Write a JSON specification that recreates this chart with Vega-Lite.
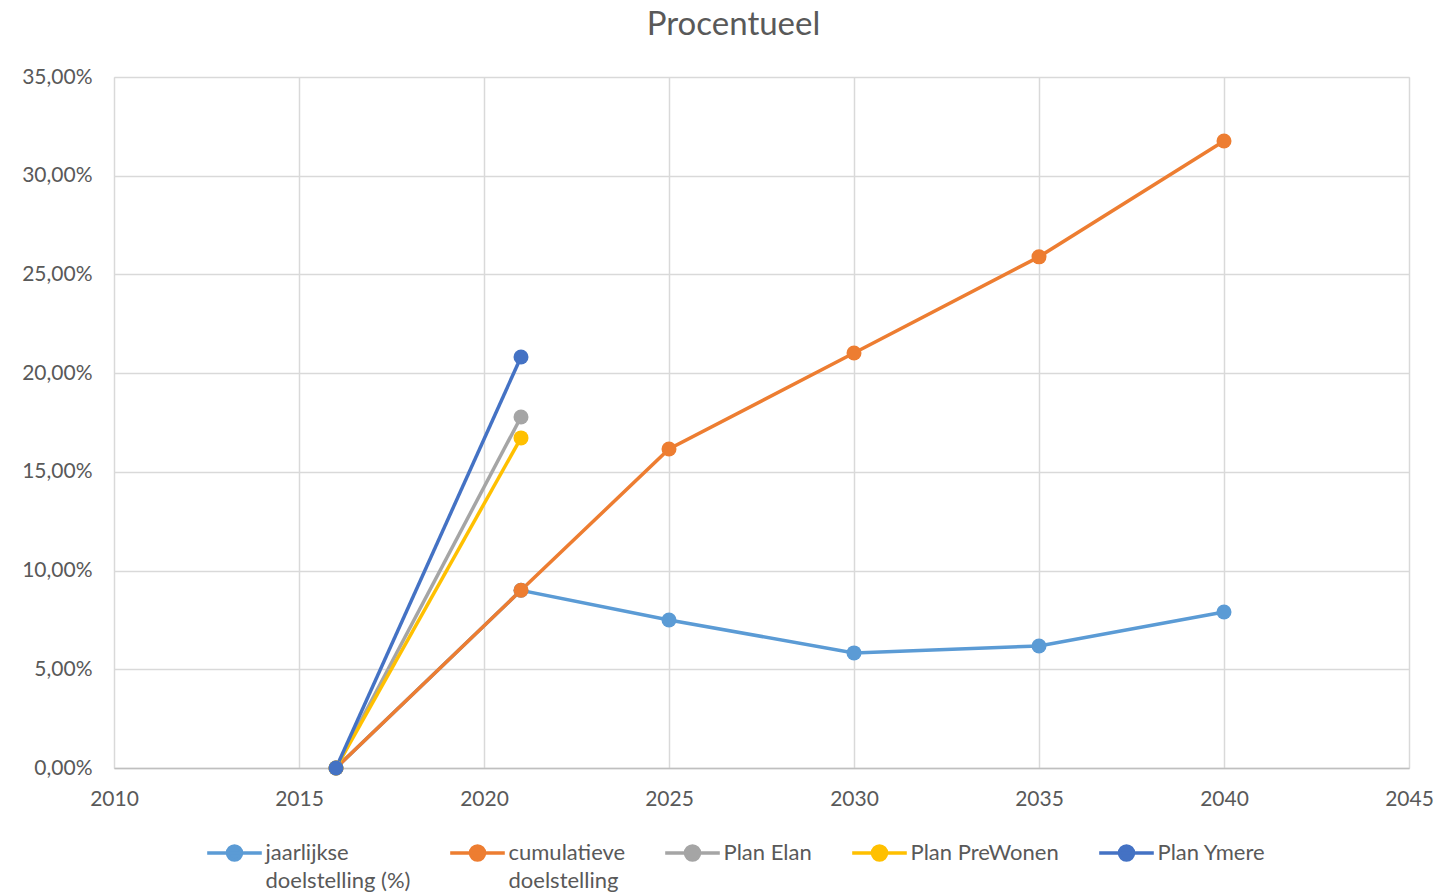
{
  "$schema": "https://vega.github.io/schema/vega-lite/v6.json",
  "width": 1295,
  "height": 691,
  "autosize": {"type": "none"},
  "padding": {"left": 114, "top": 77, "right": 44, "bottom": 124},
  "background": "white",
  "title": {"text": "Procentueel", "font": "Lato", "fontSize": 33, "fontWeight": "normal", "color": "#595959", "anchor": "middle", "baseline": "alphabetic", "offset": -2, "dx": -28},
  "data": {
    "values": [
      {"series": "jaarlijkse doelstelling (%)", "year": 2016, "value": 0},
      {"series": "jaarlijkse doelstelling (%)", "year": 2021, "value": 9.0},
      {"series": "jaarlijkse doelstelling (%)", "year": 2025, "value": 7.5},
      {"series": "jaarlijkse doelstelling (%)", "year": 2030, "value": 5.83},
      {"series": "jaarlijkse doelstelling (%)", "year": 2035, "value": 6.18},
      {"series": "jaarlijkse doelstelling (%)", "year": 2040, "value": 7.9},
      {"series": "cumulatieve doelstelling", "year": 2016, "value": 0},
      {"series": "cumulatieve doelstelling", "year": 2021, "value": 9.0},
      {"series": "cumulatieve doelstelling", "year": 2025, "value": 16.16},
      {"series": "cumulatieve doelstelling", "year": 2030, "value": 21.02},
      {"series": "cumulatieve doelstelling", "year": 2035, "value": 25.89},
      {"series": "cumulatieve doelstelling", "year": 2040, "value": 31.76},
      {"series": "Plan Elan", "year": 2016, "value": 0},
      {"series": "Plan Elan", "year": 2021, "value": 17.78},
      {"series": "Plan PreWonen", "year": 2016, "value": 0},
      {"series": "Plan PreWonen", "year": 2021, "value": 16.72},
      {"series": "Plan Ymere", "year": 2016, "value": 0},
      {"series": "Plan Ymere", "year": 2021, "value": 20.82}
    ]
  },
  "mark": {"type": "line", "strokeWidth": 3.5, "point": {"filled": true, "size": 225}},
  "encoding": {
    "x": {
      "field": "year", "type": "quantitative",
      "scale": {"domain": [2010, 2045], "nice": false, "zero": false},
      "axis": {
        "title": null, "values": [2010, 2015, 2020, 2025, 2030, 2035, 2040, 2045], "format": "d",
        "labelFont": "Lato", "labelFontSize": 21, "labelColor": "#595959", "labelPadding": 20,
        "labelFlush": false, "labelOverlap": false,
        "ticks": false, "domainColor": "#BFBFBF", "domainWidth": 1.5,
        "gridColor": "#D9D9D9", "gridWidth": 1.5
      }
    },
    "y": {
      "field": "value", "type": "quantitative",
      "scale": {"domain": [0, 35], "nice": false},
      "axis": {
        "title": null, "values": [0, 5, 10, 15, 20, 25, 30, 35],
        "labelExpr": "replace(format(datum.value, '.2f'), '.', ',') + '%'",
        "labelFont": "Lato", "labelFontSize": 21, "labelColor": "#595959", "labelPadding": 22,
        "labelFlush": false, "labelOverlap": false,
        "ticks": false, "domain": false,
        "gridColor": "#D9D9D9", "gridWidth": 1.5
      }
    },
    "color": {
      "field": "series", "type": "nominal",
      "scale": {
        "domain": ["jaarlijkse doelstelling (%)", "cumulatieve doelstelling", "Plan Elan", "Plan PreWonen", "Plan Ymere"],
        "range": ["#5B9BD5", "#ED7D31", "#A5A5A5", "#FFC000", "#4472C4"]
      },
      "legend": {
        "title": null, "orient": "none", "direction": "horizontal", "columns": 5,
        "legendX": 109.5, "legendY": 765, "padding": 0,
        "symbolType": "M-3.9,0H3.9M-1,0A1,1,0,1,1,1,0A1,1,0,1,1,-1,0Z",
        "symbolSize": 196, "symbolStrokeWidth": 3.5,
        "labelOffset": 20, "columnPadding": 32,
        "labelFont": "Lato", "labelFontSize": 22, "labelColor": "#595959", "labelLimit": 400,
        "labelExpr": "datum.label == 'jaarlijkse doelstelling (%)' ? ['jaarlijkse', 'doelstelling (%)'] : datum.label == 'cumulatieve doelstelling' ? ['cumulatieve', 'doelstelling'] : [datum.label, '']",
        "labelBaseline": "middle",
        "encode": {
          "symbols": {"update": {"fill": {"scale": "color", "field": "value"}, "stroke": {"scale": "color", "field": "value"}, "fillOpacity": {"value": 1}, "opacity": {"value": 1}}},
          "labels": {"update": {"lineHeight": {"value": 28}}}
        }
      }
    }
  }
}
